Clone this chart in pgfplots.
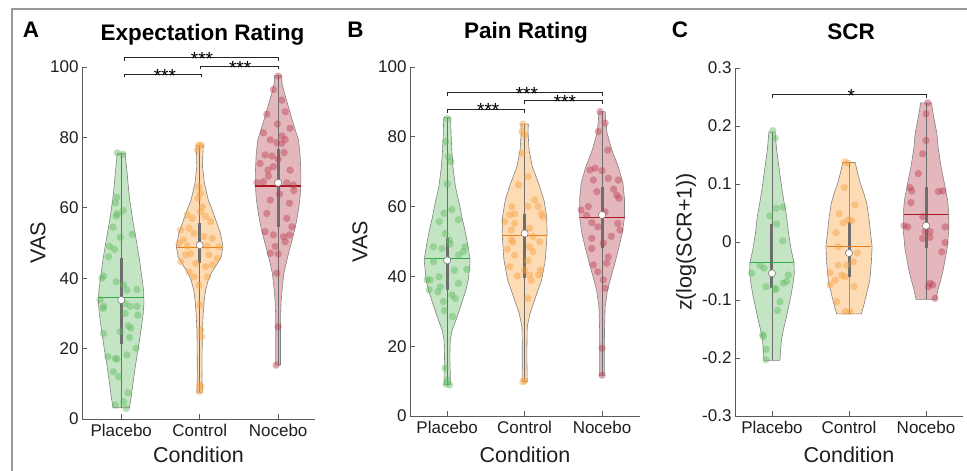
\documentclass[border=0pt]{standalone}
\usepackage{pgfplots}
\pgfplotsset{compat=1.18}
\usepackage{pgfplotstable}
\usepackage{fontspec}
\setmainfont{Liberation Sans}

\definecolor{cg}{RGB}{96,186,96}
\definecolor{co}{RGB}{248,160,60}
\definecolor{cr}{RGB}{185,65,80}
\definecolor{mg}{RGB}{50,170,70}
\definecolor{mo}{RGB}{235,125,25}
\definecolor{mr}{RGB}{170,20,30}
\definecolor{vg}{RGB}{130,130,130}
\definecolor{wg}{RGB}{110,110,110}
\definecolor{ax}{RGB}{90,90,90}
\definecolor{tc}{RGB}{30,30,30}

% ---------- violin outlines (y, half width) ----------
\pgfplotstableread{
y w
3.2 0
3.2 0.105
6.3 0.127
11 0.155
15 0.18
20.5 0.22
25 0.25
30 0.28
33 0.29
36.6 0.285
41.5 0.255
45 0.235
51 0.19
56 0.15
62 0.11
65 0.095
70 0.075
75.5 0.05
75.5 0
}\shAP
\pgfplotstableread{
y w
7.6 0
7.6 0.035
12 0.03
20 0.032
25 0.035
30 0.045
34 0.06
36.6 0.075
39.5 0.11
41.5 0.15
44 0.22
46.1 0.275
49 0.297
52.8 0.265
55 0.23
57.5 0.19
60 0.15
62.2 0.11
67 0.06
71.7 0.036
75 0.04
77.8 0.047
77.8 0
}\shAC
\pgfplotstableread{
y w
15.3 0
15.3 0.03
20 0.03
25 0.03
30 0.032
34 0.04
36.6 0.05
39.5 0.064
41.4 0.074
45 0.11
48 0.144
51 0.18
54.6 0.22
57.5 0.245
60.3 0.265
63 0.28
66.5 0.29
70 0.29
75 0.28
79.3 0.26
82 0.22
84.9 0.18
88 0.14
90.6 0.106
93 0.075
95.4 0.05
97.6 0.045
97.6 0
}\shAN
\pgfplotstableread{
y w
9 0
9 0.04
12.3 0.04
17 0.034
21.8 0.04
24.6 0.065
28.5 0.13
33.2 0.2
36 0.24
39 0.273
44.7 0.297
48.5 0.27
51.5 0.245
54.2 0.22
57 0.19
60 0.165
65.7 0.107
71.4 0.075
76 0.06
81 0.05
85.5 0.045
85.5 0
}\shBP
\pgfplotstableread{
y w
9.8 0
9.8 0.034
15 0.03
20 0.03
25.6 0.034
29.4 0.07
34.2 0.144
39 0.22
44.7 0.267
50.4 0.285
52.4 0.29
57 0.285
61.9 0.25
66.7 0.18
71.4 0.1
76.2 0.058
81 0.045
83.7 0.047
83.7 0
}\shBC
\pgfplotstableread{
y w
11.5 0
11.5 0.03
15 0.03
20 0.03
25 0.032
31.3 0.04
36 0.07
41 0.13
45 0.18
50.4 0.24
52.3 0.26
57 0.29
62 0.29
66.7 0.27
71.4 0.21
76 0.13
81 0.065
84 0.05
87.2 0.04
87.2 0
}\shBN
\pgfplotstableread{
y w
-0.204 0
-0.204 0.105
-0.19 0.11
-0.169 0.123
-0.15 0.15
-0.134 0.18
-0.115 0.21
-0.094 0.245
-0.07 0.275
-0.054 0.29
-0.035 0.285
-0.014 0.25
0.015 0.215
0.044 0.19
0.07 0.155
0.1 0.12
0.13 0.09
0.159 0.06
0.19 0.04
0.19 0
}\shCP
\pgfplotstableread{
y w
-0.124 0
-0.124 0.16
-0.11 0.19
-0.094 0.22
-0.066 0.27
-0.035 0.29
-0.008 0.3
0.015 0.28
0.04 0.26
0.067 0.23
0.085 0.19
0.1 0.15
0.12 0.11
0.137 0.08
0.137 0
}\shCC
\pgfplotstableread{
y w
-0.099 0
-0.099 0.13
-0.08 0.16
-0.071 0.18
-0.05 0.22
-0.036 0.24
-0.01 0.275
0.02 0.295
0.05 0.295
0.072 0.28
0.1 0.24
0.13 0.195
0.16 0.16
0.188 0.14
0.215 0.1
0.24 0.07
0.24 0
}\shCN

% ---------- individual points (offset from centre, value) ----------
\pgfplotstableread{
dx y
-0.05 75.6
0.02 75.2
-0.055 63
-0.076 61.4
0.025 59.2
-0.05 58.3
0.14 52.5
-0.064 57.7
-0.106 54.5
-0.013 51.6
-0.149 49.1
-0.085 48.2
-0.162 46.1
-0.225 40.6
-0.246 40
-0.064 39
0.03 38.1
0.2 36.8
0.073 36.6
-0.27 33.9
-0.225 32
0.05 32.7
0.115 32
0.2 32
0.21 29.5
0.05 30
0.093 26.4
0.124 25.8
-0.225 24.3
-0.013 24.8
0.106 23.2
-0.23 31.4
-0.17 17.7
-0.076 17.2
-0.055 17
0.073 18.2
0.19 20.1
-0.1 13.4
-0.034 12
0.085 7.5
-0.076 4
0.03 4.9
0.064 3
}\dtAP
\pgfplotstableread{
dx y
-0.01 77.8
0.02 77.8
-0.03 76.4
-0.01 66
0.01 64.1
-0.02 62.7
0.035 60.3
0.01 58.9
-0.157 58
-0.093 57
0.076 57.5
0.14 56.1
-0.242 53.7
-0.136 54.2
-0.073 52.8
0.055 51.8
0.162 51.3
-0.208 50.9
-0.264 49.9
-0.157 49.1
0.098 49.1
0.246 48.9
-0.115 47
-0.178 46.6
0.118 46.6
0.225 45.6
-0.242 44.7
-0.051 44.2
0.076 43.3
0.162 43.8
-0.136 41.8
-0.073 40.4
0.098 40.4
-0.01 38
0.004 32.4
0.013 25.3
0.025 23.4
0 9.7
0.013 9.2
-0.004 7.8
}\dtAC
\pgfplotstableread{
dx y
0 97.4
-0.06 93.6
0.047 90.6
-0.144 86.6
0.09 87.3
-0.01 83.8
0.153 82.6
-0.187 81.3
0.047 80.4
-0.1 79.3
0.09 79.4
0.047 78.3
-0.017 78.5
-0.166 75
-0.08 74.7
-0.23 72.6
0 73.8
0.076 75.7
-0.06 71.7
0.153 70.7
-0.13 70.7
-0.124 69
-0.187 67.4
-0.27 67.1
0.11 67.1
0.195 66.5
0.2 64.9
0.017 63.9
-0.1 62.2
0.144 61.3
-0.144 58.4
0.11 57
0.175 54.6
-0.166 53.2
-0.06 52.3
0.068 51.8
0.144 52.3
0.09 50.4
-0.038 49
0 46.9
-0.1 47.1
-0.017 41.4
0 26.2
-0.025 15.3
}\dtAN
\pgfplotstableread{
dx y
0 85.3
-0.017 78.6
0.017 74.3
0.048 72.9
0 66.5
-0.04 58.1
0.06 59.2
-0.026 52.3
0.146 56.2
-0.103 55.7
0.026 50.4
-0.177 48.5
-0.068 48
0.232 48.5
0.04 49.3
0.146 46.1
0.21 47.1
-0.177 44.2
0.094 41.8
0.254 42
-0.22 39
-0.103 39.9
0.146 38
-0.09 37
-0.232 36.1
-0.12 35.6
0.06 34.7
0.103 33.7
-0.048 32.8
-0.035 30.2
0.068 28.5
-0.26 39
-0.026 13.7
0 10.3
0.03 8.9
-0.013 9.2
}\dtBP
\pgfplotstableread{
dx y
-0.022 83.7
-0.035 81.5
0 80.5
-0.035 75.3
0.043 68.6
-0.077 66.2
-0.164 60
0.043 60
0.129 61.9
0.172 60
-0.194 57.6
-0.129 57.9
0.215 58
0.236 57.1
-0.129 55.2
-0.258 55.7
0.065 53.8
-0.172 53.3
0.107 51.4
-0.172 50.4
-0.151 49.9
0.194 49.9
0.065 48.5
-0.223 47.8
0.107 47.1
-0.129 46.1
0.043 44.5
-0.194 42.8
0 41.8
0.206 41.8
-0.094 40.1
0.065 40.4
0.18 40.4
0.086 38.8
0.043 33.7
-0.022 9.8
0 10.1
}\dtBC
\pgfplotstableread{
dx y
-0.026 87.2
0.039 83.9
-0.048 81.5
0.074 76.2
-0.155 70.5
-0.09 71
0 70.3
0.081 68.1
0.21 67.6
-0.112 67.6
0.15 65
-0.068 64.3
0.19 63.3
0.219 62.4
-0.271 59
-0.177 60
0.039 58.5
-0.2 57.5
-0.133 55.4
-0.055 54.2
0.203 55.2
0.232 53.3
0.12 51.5
-0.133 50.9
0.017 49.5
-0.133 48
0.06 43.8
-0.112 43.3
-0.055 41.3
0.081 45.6
0.017 39
0.039 36.6
0 19.4
0 11.7
}\dtBN
\pgfplotstableread{
dx y
0.01 0.192
0.04 0.179
0.14 0.06
0.052 0.058
-0.026 0.045
0.06 0.031
0.14 0.002
-0.156 -0.04
-0.104 -0.045
-0.264 -0.054
0.212 -0.057
0.147 -0.071
0.19 -0.068
-0.078 -0.077
0.04 -0.08
0.052 -0.082
0.104 -0.103
0.07 -0.118
-0.12 -0.16
-0.113 -0.163
-0.078 -0.185
-0.078 -0.203
}\dtCP
\pgfplotstableread{
dx y
-0.052 0.138
-0.013 0.136
-0.06 0.094
0.078 0.064
-0.13 0.049
-0.074 0.033
-0.01 0.038
0.035 0.037
-0.17 0.016
-0.14 -0.008
0.108 -0.019
0.056 -0.034
-0.14 -0.04
-0.03 -0.04
-0.247 -0.053
-0.095 -0.057
-0.052 -0.06
-0.18 -0.066
0.065 -0.077
-0.247 -0.074
-0.16 -0.103
-0.052 -0.12
0.013 -0.12
}\dtCC
\pgfplotstableread{
dx y
0.022 0.24
0 0.221
0 0.175
-0.043 0.152
-0.1 0.118
-0.208 0.094
-0.186 0.088
0.16 0.087
0.217 0.088
-0.195 0.068
-0.043 0.044
-0.286 0.028
-0.238 0.026
0.247 0.026
0.052 0.018
-0.013 0.018
-0.043 0.006
0.052 0.008
0.247 -0.001
0.204 -0.017
0.052 -0.071
0.087 -0.074
0.03 -0.077
0.117 -0.097
}\dtCN
\pgfplotstableread{
d e
-0.29 0
0.29 0
}\meanline

% #1 centre, #2 outline, #3 points, #4 colour, #5 mean colour, #6 q1, #7 q3, #8 median, #9 mean
\newcommand{\violin}[9]{%
  \addplot[fill=#4, fill opacity=0.38, draw=vg, line width=0.6pt] table[x expr=#1+\thisrow{w}, y=y] {#2};
  \addplot[fill=#4, fill opacity=0.38, draw=vg, line width=0.6pt] table[x expr=#1-\thisrow{w}, y=y] {#2};
  \addplot[only marks, color=#4, mark=*, mark size=3.7pt, mark options={solid, fill=#4, draw=#4, fill opacity=0.45, draw opacity=0}] table[x expr=#1+\thisrow{dx}, y=y] {#3};
  \addplot[wg, line width=0.8pt] table[x expr=#1, y=y] {#2};
  \addplot[wg, line width=3pt] coordinates {(#1,#6) (#1,#7)};
  \addplot[#5, line width=1.1pt] table[x expr=#1+\thisrow{d}, y expr=#9+\thisrow{e}] {\meanline};
  \addplot[only marks, mark=*, mark size=3.6pt, mark options={fill=white, draw=wg, line width=0.5pt}] coordinates {(#1,#8)};
}

\pgfplotsset{vstyle/.style={
  scale only axis, clip=false, anchor=south west,
  axis x line*=bottom, axis y line*=left,
  axis line style={ax, line width=0.8pt, -},
  tick style={ax, line width=0.8pt},
  tick align=inside, major tick length=4.5pt,
  xtick={1,2,3}, xticklabels={Placebo,Control,Nocebo},
  ticklabel style={font=\fontsize{17}{19}\selectfont, text=tc},
  xticklabel style={yshift=-1.5pt},
  label style={font=\fontsize{21.5}{24}\selectfont, text=tc},
  xlabel={Condition},
}}

\begin{document}
\begin{tikzpicture}
\path[use as bounding box] (0,0) rectangle (967pt,471pt);
\draw[black!40, line width=1.3pt] (12pt,0pt) -- (12pt,462pt) -- (967pt,462pt);

\node[anchor=base, font=\bfseries\fontsize{22.5}{25}\selectfont] at (31pt,433.3pt) {A};
\node[anchor=base, font=\bfseries\fontsize{22.5}{25}\selectfont] at (355.5pt,433.7pt) {B};
\node[anchor=base, font=\bfseries\fontsize{22.5}{25}\selectfont] at (680pt,433.3pt) {C};
\node[anchor=base, font=\bfseries\fontsize{22.5}{25}\selectfont] at (202.5pt,430.3pt) {Expectation Rating};
\node[anchor=base, font=\bfseries\fontsize{22.5}{25}\selectfont] at (526pt,432.7pt) {Pain Rating};
\node[anchor=base, font=\bfseries\fontsize{22.5}{25}\selectfont] at (851pt,431.7pt) {SCR};

% ---------------- A ----------------
\begin{axis}[vstyle, at={(82pt,52pt)}, width=233pt, height=352pt,
  xmin=0.5, xmax=3.47, ymin=0, ymax=100,
  ytick={0,20,40,60,80,100}, yticklabels={0,20,40,60,80,100},
  ylabel={VAS}, ylabel style={at={(axis description cs:-0.189,0.5)}, anchor=center},
  xlabel style={at={(axis description cs:0.5,-0.102)}, anchor=center}]
\violin{1}{\shAP}{\dtAP}{cg}{mg}{21.3}{45.7}{33.8}{34.5}
\violin{2}{\shAC}{\dtAC}{co}{mo}{44.2}{55.8}{49.4}{48.8}
\violin{3}{\shAN}{\dtAN}{cr}{mr}{54.6}{76.7}{67.1}{66.2}
\addplot[black!85, line width=0.7pt] coordinates {(1.04,97.1) (1.04,98) (2.025,98) (2.025,97.1)};
\addplot[black!85, line width=0.7pt] coordinates {(2.01,99.4) (2.01,100.2) (3,100.2) (3,99.4)};
\addplot[black!85, line width=0.7pt] coordinates {(1.04,101.8) (1.04,102.6) (3,102.6) (3,101.8)};
\node[font=\fontsize{19}{20}\selectfont, yshift=-1.5pt] at (axis cs:1.557,98) {***};
\node[font=\fontsize{19}{20}\selectfont, yshift=-1.5pt] at (axis cs:2.516,100.2) {***};
\node[font=\fontsize{19}{20}\selectfont, yshift=-1.5pt] at (axis cs:2.03,102.6) {***};
\end{axis}

% ---------------- B ----------------
\begin{axis}[vstyle, at={(410pt,55pt)}, width=230pt, height=349pt,
  xmin=0.52, xmax=3.49, ymin=0, ymax=100,
  ytick={0,20,40,60,80,100}, yticklabels={0,20,40,60,80,100},
  ylabel={VAS}, ylabel style={at={(axis description cs:-0.217,0.5)}, anchor=center},
  xlabel style={at={(axis description cs:0.5,-0.112)}, anchor=center}]
\violin{1}{\shBP}{\dtBP}{cg}{mg}{36}{51}{44.6}{45}
\violin{2}{\shBC}{\dtBC}{co}{mo}{39.5}{58}{52.3}{51.6}
\violin{3}{\shBN}{\dtBN}{cr}{mr}{48}{65.5}{57.6}{56.8}
\addplot[black!85, line width=0.7pt] coordinates {(1,86.9) (1,88) (2,88) (2,86.9)};
\addplot[black!85, line width=0.7pt] coordinates {(2,89.3) (2,90.3) (3,90.3) (3,89.3)};
\addplot[black!85, line width=0.7pt] coordinates {(1,91.8) (1,92.75) (3,92.75) (3,91.8)};
\node[font=\fontsize{19}{20}\selectfont, yshift=-1.5pt] at (axis cs:1.53,88) {***};
\node[font=\fontsize{19}{20}\selectfont, yshift=-1.5pt] at (axis cs:2.52,90.3) {***};
\node[font=\fontsize{19}{20}\selectfont, yshift=-1.5pt] at (axis cs:2.03,92.75) {***};
\end{axis}

% ---------------- C ----------------
\begin{axis}[vstyle, at={(735pt,55pt)}, width=228pt, height=348pt,
  xmin=0.52, xmax=3.48, ymin=-0.3, ymax=0.3,
  ytick={-0.3,-0.2,-0.1,0,0.1,0.2,0.3}, yticklabels={-0.3,-0.2,-0.1,0,0.1,0.2,0.3},
  ylabel={z(log(SCR+1))}, ylabel style={at={(axis description cs:-0.215,0.5)}, anchor=center},
  xlabel style={at={(axis description cs:0.5,-0.112)}, anchor=center}]
\violin{1}{\shCP}{\dtCP}{cg}{mg}{-0.08}{0.031}{-0.054}{-0.036}
\violin{2}{\shCC}{\dtCC}{co}{mo}{-0.06}{0.035}{-0.019}{-0.008}
\violin{3}{\shCN}{\dtCN}{cr}{mr}{-0.01}{0.095}{0.028}{0.048}
\addplot[black!85, line width=0.7pt] coordinates {(1,0.249) (1,0.255) (3,0.255) (3,0.249)};
\node[font=\fontsize{19}{20}\selectfont, yshift=-1.5pt] at (axis cs:2.03,0.255) {*};
\end{axis}
\end{tikzpicture}
\end{document}
